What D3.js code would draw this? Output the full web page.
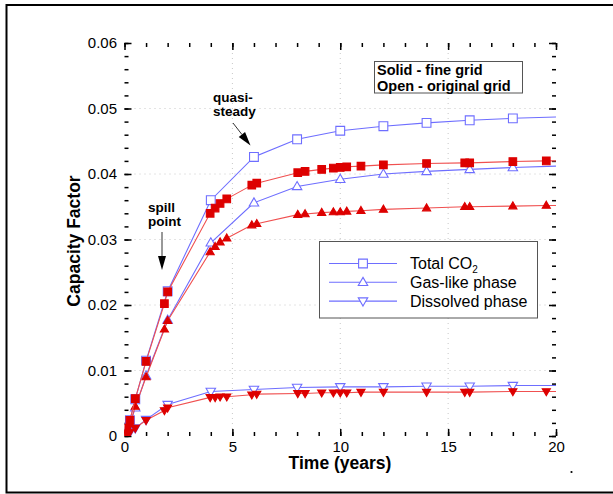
<!DOCTYPE html>
<html>
<head>
<meta charset="utf-8">
<script src="https://cdn.jsdelivr.net/npm/d3@7/dist/d3.min.js"></script>
<style>
  html, body { margin: 0; padding: 0; background: #fff; }
  svg { display: block; font-family: Arial, "Liberation Sans", sans-serif; }
</style>
</head>
<body>
<svg id="chart" width="613" height="494"></svg>
<script>
// Original grid (open symbols)
const origTime = [0, 0.1, 0.25, 0.5, 1, 2, 4, 6, 8, 10, 12, 14, 16, 18, 20];
const origTotal = [0, 0.0012, 0.0024, 0.0056, 0.0115, 0.0221, 0.0360, 0.0426, 0.0453, 0.0466, 0.0473, 0.0478, 0.0482, 0.0485, 0.0487];
const origGas = [0, 0.0008, 0.0018, 0.0043, 0.0092, 0.0177, 0.0295, 0.0356, 0.0381, 0.0392, 0.0400, 0.0404, 0.0407, 0.0410, 0.0412];
const origDissolved = [0, 0.0004, 0.0006, 0.0012, 0.0025, 0.0048, 0.0068, 0.0071, 0.0074, 0.0075, 0.0075, 0.0076, 0.0076, 0.0077, 0.0077];

// Fine grid (solid symbols)
const fineTime = [0, 0.1, 0.25, 0.5, 1, 1.85, 2, 3.97, 4.2, 4.43, 4.74, 5.9, 6.13, 8.03, 8.37, 9.14, 9.68, 10, 10.3, 10.96, 12, 14, 15.77, 16, 18, 19.55, 20];
const fineTotal = [0, 0.0012, 0.0024, 0.0057, 0.0114, 0.0202, 0.0220, 0.0340, 0.0348, 0.0355, 0.0362, 0.0383, 0.0386, 0.0402, 0.0404, 0.0407, 0.0409, 0.0410, 0.0411, 0.0412, 0.0414, 0.0416, 0.0417, 0.0417, 0.0419, 0.0420, 0.0420];
const fineGas = [0, 0.0008, 0.0018, 0.0045, 0.0090, 0.0163, 0.0176, 0.0281, 0.0289, 0.0296, 0.0302, 0.0322, 0.0324, 0.0338, 0.0339, 0.0341, 0.0342, 0.0342, 0.0343, 0.0344, 0.0346, 0.0348, 0.0350, 0.0350, 0.0351, 0.0352, 0.0352];
const fineDissolved = [0, 0.0004, 0.0006, 0.0012, 0.0024, 0.0039, 0.0043, 0.0059, 0.0059, 0.0060, 0.0060, 0.0063, 0.0064, 0.0065, 0.0065, 0.0066, 0.0066, 0.0066, 0.0066, 0.0067, 0.0067, 0.0067, 0.0067, 0.0067, 0.0068, 0.0068, 0.0068];

const xTicks = [0, 5, 10, 15, 20];
const yTicks = [0, 0.01, 0.02, 0.03, 0.04, 0.05, 0.06];
const yTickLabels = ["0", "0.01", "0.02", "0.03", "0.04", "0.05", "0.06"];

const legendNames = ["Total CO", "Gas-like phase", "Dissolved phase"];
const gridNote = ["Solid - fine grid", "Open - original grid"];

const BLUE = "#6e6eff";
const RED_LINE = "#f05050";
const RED = "#dd0000";

const svg = d3.select("#chart");
const pLeft = 124.5, pRight = 556, pTop = 43, pBottom = 436;
const x = d3.scaleLinear().domain([0, 20]).range([pLeft, pRight]);
const y = d3.scaleLinear().domain([0, 0.06]).range([pBottom, pTop]);

// outer frame
svg.append("rect").attr("x", 6.5).attr("y", 5).attr("width", 700).attr("height", 487.5)
  .attr("fill", "none").attr("stroke", "#000").attr("stroke-width", 2);
svg.append("circle").attr("cx", 571.5).attr("cy", 472).attr("r", 1.1).attr("fill", "#000");

// dotted grid
const grid = svg.append("g");
grid.selectAll("line.gx").data(xTicks.slice(1, -1)).join("line")
  .attr("x1", d => x(d)).attr("x2", d => x(d)).attr("y1", pTop).attr("y2", pBottom)
  .attr("stroke", "#c8c8c8").attr("stroke-width", 1).attr("stroke-dasharray", "1,4");
grid.selectAll("line.gy").data(yTicks.slice(1, -1)).join("line")
  .attr("y1", d => y(d)).attr("y2", d => y(d)).attr("x1", pLeft).attr("x2", pRight)
  .attr("stroke", "#c8c8c8").attr("stroke-width", 1).attr("stroke-dasharray", "1,4");

// axes: ticks point inward on all four sides
const minorX = d3.range(0, 20.001, 1);
const minorY = d3.range(0, 0.0601, 0.002);
function styleAxis(g) {
  g.select(".domain").remove();
  g.selectAll(".tick line").attr("stroke", "#000").attr("stroke-width", 1.5);
  g.selectAll(".tick text").attr("fill", "#000").style("font-size", "15px")
    .style("font-family", "Arial, 'Liberation Sans', sans-serif");
}
svg.append("g").attr("transform", `translate(0,${pBottom})`)
  .call(d3.axisBottom(x).tickValues(minorX).tickSize(-4).tickFormat("")).call(styleAxis);
svg.append("g").attr("transform", `translate(0,${pBottom})`)
  .call(d3.axisBottom(x).tickValues(xTicks).tickSize(-7).tickPadding(5).tickFormat(d3.format("d"))).call(styleAxis);
svg.append("g").attr("transform", `translate(0,${pTop})`)
  .call(d3.axisTop(x).tickValues(minorX).tickSize(-4).tickFormat("")).call(styleAxis);
svg.append("g").attr("transform", `translate(0,${pTop})`)
  .call(d3.axisTop(x).tickValues(xTicks).tickSize(-7).tickFormat("")).call(styleAxis);
svg.append("g").attr("transform", `translate(${pLeft},0)`)
  .call(d3.axisLeft(y).tickValues(minorY).tickSize(-4).tickFormat("")).call(styleAxis);
svg.append("g").attr("transform", `translate(${pLeft},0)`)
  .call(d3.axisLeft(y).tickValues(yTicks).tickSize(-7).tickPadding(7.5)
    .tickFormat((d, i) => yTickLabels[i])).call(styleAxis);
svg.append("g").attr("transform", `translate(${pRight},0)`)
  .call(d3.axisRight(y).tickValues(minorY).tickSize(-4).tickFormat("")).call(styleAxis);
svg.append("g").attr("transform", `translate(${pRight},0)`)
  .call(d3.axisRight(y).tickValues(yTicks).tickSize(-7).tickFormat("")).call(styleAxis);

// clip region for the curves
svg.append("clipPath").attr("id", "plotClip").append("rect")
  .attr("x", pLeft).attr("y", pTop).attr("width", pRight - pLeft).attr("height", pBottom - pTop);

// marker shapes
const shapes = {
  square: s => `M${-s},${-s}H${s}V${s}H${-s}Z`,
  up: s => `M0,${-s * 1.15}L${s * 1.1},${s * 0.75}L${-s * 1.1},${s * 0.75}Z`,
  down: s => `M0,${s * 1.15}L${s * 1.1},${-s * 0.75}L${-s * 1.1},${-s * 0.75}Z`
};

const line = d3.line().x(d => x(d[0])).y(d => y(d[1]));
const plot = svg.append("g").attr("clip-path", "url(#plotClip)");

function drawSeries(times, vals, shape, opts) {
  const pts = times.map((t, i) => [t, vals[i]]);
  plot.append("path").attr("d", line(pts)).attr("fill", "none")
    .attr("stroke", opts.line).attr("stroke-width", 1.1);
  // the end point at the axis limit only carries the line
  plot.append("g").selectAll("path").data(pts.filter(p => p[0] < 20)).join("path")
    .attr("transform", d => `translate(${x(d[0])},${y(d[1])})`)
    .attr("d", shapes[shape](opts.size))
    .attr("fill", opts.fill).attr("stroke", opts.stroke).attr("stroke-width", 1.1);
}

const openStyle = { line: BLUE, fill: "#fff", stroke: BLUE };
drawSeries(origTime, origDissolved, "down", { ...openStyle, size: 4.3 });
drawSeries(origTime, origGas, "up", { ...openStyle, size: 4.3 });
drawSeries(origTime, origTotal, "square", { ...openStyle, size: 4.4 });

const solidStyle = { line: RED_LINE, fill: RED, stroke: RED };
drawSeries(fineTime, fineDissolved, "down", { ...solidStyle, size: 3.7 });
drawSeries(fineTime, fineGas, "up", { ...solidStyle, size: 3.7 });
drawSeries(fineTime, fineTotal, "square", { ...solidStyle, size: 3.8 });

// axis titles
svg.append("text").attr("x", 340).attr("y", 469).attr("text-anchor", "middle")
  .style("font-size", "17.5px").style("font-weight", "bold").text("Time (years)");
svg.append("text").attr("transform", "translate(80,241) rotate(-90)").attr("text-anchor", "middle")
  .style("font-size", "17.5px").style("font-weight", "bold").text("Capacity Factor");

// grid-resolution note
svg.append("rect").attr("x", 374.5).attr("y", 61.5).attr("width", 148).attr("height", 31.5)
  .attr("fill", "#fff").attr("stroke", "#555").attr("stroke-width", 1);
gridNote.forEach((t, i) => {
  svg.append("text").attr("x", 377).attr("y", 74.5 + i * 16)
    .style("font-size", "14.5px").style("font-weight", "bold").text(t);
});

// series legend
const lg = svg.append("g");
lg.append("rect").attr("x", 319.5).attr("y", 241.5).attr("width", 218).attr("height", 76.5)
  .attr("fill", "#fff").attr("stroke", "#555").attr("stroke-width", 1);
const legendShapes = ["square", "up", "down"];
legendNames.forEach((name, i) => {
  const cy = 263.5 + i * 18.8;
  lg.append("line").attr("x1", 329).attr("x2", 397).attr("y1", cy).attr("y2", cy)
    .attr("stroke", BLUE).attr("stroke-width", 1.1);
  lg.append("path").attr("transform", `translate(363,${cy})`)
    .attr("d", shapes[legendShapes[i]](legendShapes[i] === "square" ? 4.4 : 4.3))
    .attr("fill", "#fff").attr("stroke", BLUE).attr("stroke-width", 1.1);
  const t = lg.append("text").attr("x", 410).attr("y", cy + 5.6).style("font-size", "16px").text(name);
  if (i === 0) t.append("tspan").attr("dy", 4).style("font-size", "10px").text("2");
});

// annotations
function arrow(x1, y1, x2, y2) {
  const ang = Math.atan2(y2 - y1, x2 - x1);
  const L = 14, W = 4;
  const bx = x2 - L * Math.cos(ang), by = y2 - L * Math.sin(ang);
  svg.append("line").attr("x1", x1).attr("y1", y1).attr("x2", bx).attr("y2", by)
    .attr("stroke", "#333").attr("stroke-width", 1);
  const px = -Math.sin(ang) * W, py = Math.cos(ang) * W;
  svg.append("path").attr("d", `M${x2},${y2}L${bx + px},${by + py}L${bx - px},${by - py}Z`).attr("fill", "#000");
}
const annotations = [
  { lines: ["quasi-", "steady"], x: 213, y: 102 },
  { lines: ["spill", "point"], x: 148, y: 212 }
];
annotations.forEach(a => {
  a.lines.forEach((t, i) => {
    svg.append("text").attr("x", a.x).attr("y", a.y + i * 13.5)
      .style("font-size", "13.5px").style("font-weight", "bold").text(t);
  });
});
arrow(233, 123, 250.5, 145.5);
arrow(162, 232, 162, 270);
</script>
</body>
</html>
